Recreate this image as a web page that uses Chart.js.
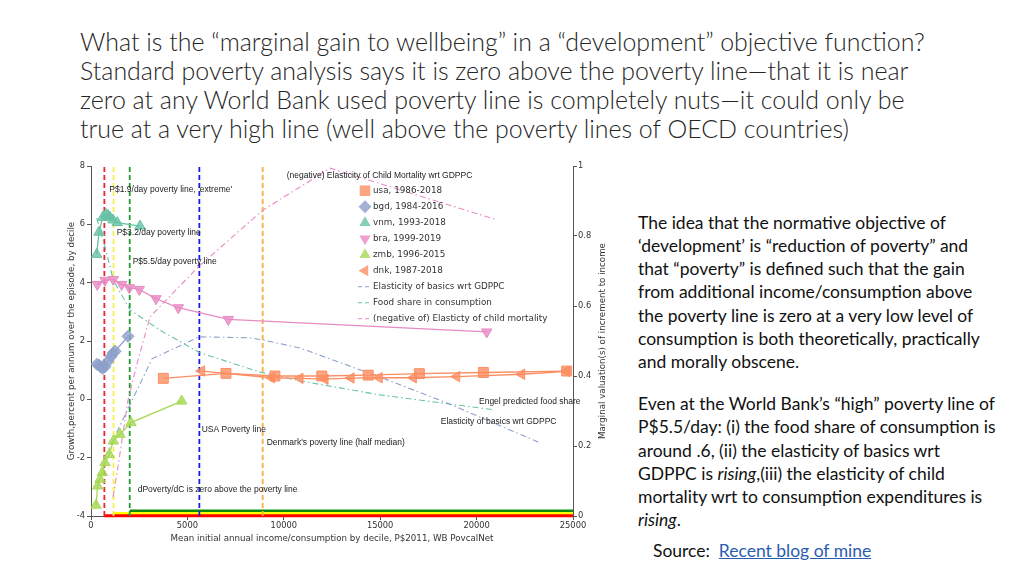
<!DOCTYPE html>
<html>
<head>
<meta charset="utf-8">
<script src="https://cdn.jsdelivr.net/npm/chart.js@4.4.1/dist/chart.umd.min.js"></script>
<style>
  html, body { margin: 0; padding: 0; background: #fff; }
  body { width: 1024px; height: 576px; position: relative; overflow: hidden; font-family: Lato, sans-serif; color: #1a1a1a; }
  .title { position: absolute; left: 80px; top: 27px; font-size: 21px; line-height: 29px; white-space: nowrap; font-weight: 300; color: #262626; }
  .side { position: absolute; left: 638px; font-size: 16px; line-height: 23.3px; white-space: nowrap; color: #111; }
  .src { position: absolute; left: 653px; top: 539px; font-size: 16px; line-height: 23.3px; white-space: nowrap; color: #111; }
  .src a { color: #2a5db0; }
  #chartBox { position: absolute; left: 55px; top: 158px; width: 570px; height: 390px; }
</style>
</head>
<body>

<div class="title" id="title">
  <div id="t1">What is the “marginal gain to wellbeing” in a “development” objective function?</div>
  <div>Standard poverty analysis says it is zero above the poverty line—that it is near</div>
  <div>zero at any World Bank used poverty line is completely nuts—it could only be</div>
  <div>true at a very high line (well above the poverty lines of OECD countries)</div>
</div>

<div class="side" id="p1" style="top:210.5px">
  <div>The idea that the normative objective of</div>
  <div>‘development’ is “reduction of poverty” and</div>
  <div>that “poverty” is defined such that the gain</div>
  <div>from additional income/consumption above</div>
  <div>the poverty line is zero at a very low level of</div>
  <div id="s1">consumption is both theoretically, practically</div>
  <div>and morally obscene.</div>
</div>
<div class="side" id="p2" style="top:392px">
  <div>Even at the World Bank’s “high” poverty line of</div>
  <div>P$5.5/day: (i) the food share of consumption is</div>
  <div>around .6, (ii) the elasticity of basics wrt</div>
  <div>GDPPC is <i>rising</i>,(iii) the elasticity of child</div>
  <div>mortality wrt to consumption expenditures is</div>
  <div><i>rising</i>.</div>
</div>
<div class="src" id="src">Source:&nbsp; <a href="#">Recent blog of mine</a></div>

<div id="chartBox"><canvas id="chart" width="570" height="390"></canvas></div>

<script>
// ── Data ──────────────────────────────────────────────────────────────────
// growth by decile, left axis (percent p.a.) against mean income (P$2011)
const usaX = [3750, 7000, 9540, 11970, 14380, 17030, 20350, 24670];
const usaY = [0.72, 0.89, 0.80, 0.80, 0.83, 0.88, 0.92, 0.97];

const bgdX = [310, 415, 520, 620, 730, 880, 1040, 1140, 1250, 1920];
const bgdY = [1.20, 1.17, 1.10, 1.06, 1.13, 1.30, 1.47, 1.58, 1.65, 2.16];

const vnmX = [296, 415, 607, 778, 880, 986, 1141, 1364, 2541];
const vnmY = [4.97, 5.73, 6.24, 6.34, 6.30, 6.24, 6.15, 6.06, 5.94];

const braX = [327, 726, 1157, 1592, 1987, 2505, 3371, 4528, 7122, 20524];
const braY = [3.94, 4.08, 4.11, 3.94, 3.83, 3.77, 3.45, 3.14, 2.74, 2.31];

const zmbX = [259, 347, 467, 586, 726, 949, 1157, 1504, 2075, 4704];
const zmbY = [-3.63, -2.97, -2.74, -2.51, -2.17, -1.89, -1.43, -1.20, -0.80, -0.06];

const dnkX = [5740, 9370, 10840, 12140, 13490, 14950, 16720, 18970, 22340, 24670];
const dnkY = [0.97, 0.74, 0.72, 0.69, 0.73, 0.74, 0.74, 0.78, 0.86, 0.96];

// marginal valuations, right axis
const basicsX = [726, 3164, 5602, 8247, 8921, 10840, 14990, 18465, 23288];
const basicsY = [0.169, 0.449, 0.512, 0.509, 0.503, 0.480, 0.397, 0.323, 0.209];

const foodX = [296, 726, 1157, 2023, 3579, 5617, 8766, 10840, 12915, 14990, 20954];
const foodY = [0.851, 0.769, 0.674, 0.589, 0.531, 0.467, 0.411, 0.386, 0.366, 0.346, 0.303];

const mortX = [1141, 1349, 1608, 1919, 2438, 3060, 5550, 8921, 12400, 21058];
const mortY = [0.054, 0.123, 0.217, 0.331, 0.446, 0.569, 0.711, 0.874, 0.994, 0.846];

// poverty lines (annual P$): 1.9, 3.2, 5.5 per day, USA, Denmark
const povLineX     = [1.9 * 365, 3.2 * 365, 5.5 * 365, 5620, 8905];
const povLineColor = ['#e8262c', '#f4f04a', '#1e9a2a', '#1c1ce8', '#fbad3c'];
// zero-gain bands along the bottom (first three lines)
const bandY     = [-3.99, -3.91, -3.83];
const bandColor = ['#ff0000', '#ffff00', '#0a8a0a'];

const xTicks = [0, 5000, 10000, 15000, 20000, 25000];

const notes = [
  { text: "P$1.9/day poverty line, 'extreme'", x: 950, y: 7.2 },
  { text: 'P$3.2/day poverty line', x: 1333, y: 5.71 },
  { text: 'P$5.5/day poverty line', x: 2163, y: 4.71 },
  { text: '(negative) Elasticity of Child Mortality wrt GDPPC', x: 10150, y: 7.68 },
  { text: 'Engel predicted food share', x: 20124, y: -0.09 },
  { text: 'Elasticity of basics wrt GDPPC', x: 18140, y: -0.78 },
  { text: 'USA Poverty line', x: 5742, y: -1.05 },
  { text: "Denmark's poverty line (half median)", x: 9113, y: -1.49 },
  { text: 'dPoverty/dC is zero above the poverty line', x: 2422, y: -3.09 },
];

// ── Fit slide text widths ──────────────────────────────────────────────────
function fitWidth(el, target) {
  const w = el.getBoundingClientRect().width;
  const fs = parseFloat(getComputedStyle(el.parentElement).fontSize);
  return fs * target / w;
}
(function fitText() {
  const t1 = document.getElementById('t1');
  t1.style.display = 'inline-block';
  const fsT = fitWidth(t1, 845);
  t1.style.display = '';
  document.getElementById('title').style.fontSize = fsT + 'px';
  const s1 = document.getElementById('s1');
  s1.style.display = 'inline-block';
  const fsS = fitWidth(s1, 342);
  s1.style.display = '';
  ['p1', 'p2', 'src'].forEach(id => document.getElementById(id).style.fontSize = fsS + 'px');
})();

// ── Chart ─────────────────────────────────────────────────────────────────
const pts = (xs, ys) => xs.map((x, i) => ({ x, y: ys[i] }));
const fade = (hex, a) => {
  const n = parseInt(hex.slice(1), 16);
  return `rgba(${n >> 16},${(n >> 8) & 255},${n & 255},${a})`;
};

function markerSet(label, xs, ys, color, style, rotation, radius) {
  return {
    label, data: pts(xs, ys), yAxisID: 'y', order: 0,
    borderColor: color, backgroundColor: fade(color, 0.85), borderWidth: 1.3,
    pointStyle: style, rotation, pointRadius: radius, pointBorderWidth: 1,
    pointBackgroundColor: fade(color, 0.8), pointBorderColor: color,
    legend: true,
  };
}
function curveSet(label, xs, ys, color) {
  return {
    label, data: pts(xs, ys), yAxisID: 'y1', order: 1,
    borderColor: color, borderWidth: 1.1, borderDash: [6, 3, 1.5, 3],
    pointRadius: 0, legend: true, isCurve: true,
  };
}

const datasets = [
  markerSet('usa, 1986-2018', usaX, usaY, '#fc8d62', 'rect', 0, 7),
  markerSet('bgd, 1984-2016', bgdX, bgdY, '#8da0cb', 'rectRot', 0, 6),
  markerSet('vnm, 1993-2018', vnmX, vnmY, '#66c2a5', 'triangle', 0, 6),
  markerSet('bra, 1999-2019', braX, braY, '#e78ac3', 'triangle', 180, 6),
  markerSet('zmb, 1996-2015', zmbX, zmbY, '#a6d854', 'triangle', 0, 6),
  markerSet('dnk, 1987-2018', dnkX, dnkY, '#fc8d62', 'triangle', 270, 6),
  curveSet('Elasticity of basics wrt GDPPC', basicsX, basicsY, '#8da0cb'),
  curveSet('Food share in consumption', foodX, foodY, '#66c2a5'),
  curveSet('(negative of) Elasticty of child mortality', mortX, mortY, '#e78ac3'),
];

povLineX.forEach((px, i) => datasets.push({
  label: 'line' + i, data: [{ x: px, y: -4 }, { x: px, y: 8 }], yAxisID: 'y', order: 2,
  borderColor: povLineColor[i], borderWidth: 1.8, borderDash: [5, 3], pointRadius: 0,
}));
bandY.forEach((by, i) => datasets.push({
  label: 'band' + i, data: [{ x: povLineX[i], y: by }, { x: 25000, y: by }], yAxisID: 'y', order: 3,
  borderColor: bandColor[i], borderWidth: 3, pointRadius: 0, clip: false,
}));

const tickFont = { family: '"DejaVu Sans", Verdana, sans-serif', size: 8.3 };
const axisGrid = { display: true, drawOnChartArea: false, drawTicks: true, tickLength: 4, color: '#555' };

const overlay = {
  id: 'overlay',
  afterDatasetsDraw(chart) {
    const { ctx, chartArea: a, scales: { x, y } } = chart;
    ctx.save();

    // annotations
    ctx.font = '8.5px "Liberation Sans", Arial, sans-serif';
    ctx.fillStyle = '#222';
    ctx.textBaseline = 'middle';
    ctx.textAlign = 'left';
    notes.forEach(n => ctx.fillText(n.text, x.getPixelForValue(n.x), y.getPixelForValue(n.y)));

    // legend
    ctx.font = '8.8px "DejaVu Sans", Verdana, sans-serif';
    const lx = a.left + 274, ly = a.top + 24.7;
    chart.data.datasets.filter(d => d.legend).forEach((d, i) => {
      const cy = ly + i * 16;
      if (d.isCurve) {
        ctx.save();
        ctx.strokeStyle = d.borderColor;
        ctx.lineWidth = 1.1;
        ctx.setLineDash([4, 3]);
        ctx.beginPath();
        ctx.moveTo(lx - 7, cy);
        ctx.lineTo(lx + 4, cy);
        ctx.stroke();
        ctx.restore();
      } else {
        ctx.fillStyle = d.pointBackgroundColor;
        ctx.strokeStyle = d.pointBorderColor;
        ctx.lineWidth = 1;
        Chart.helpers.drawPoint(ctx, { pointStyle: d.pointStyle, rotation: d.rotation, radius: d.pointRadius + 0.5 }, lx, cy);
      }
      ctx.fillStyle = '#333';
      ctx.fillText(d.label, lx + 8, cy + 0.5);
    });

    // axis titles
    ctx.font = '8.7px "DejaVu Sans", Verdana, sans-serif';
    ctx.fillStyle = '#333';
    ctx.textAlign = 'center';
    ctx.fillText('Mean initial annual income/consumption by decile, P$2011, WB PovcalNet', (a.left + a.right) / 2, a.bottom + 23);
    const cy = (a.top + a.bottom) / 2;
    ctx.save();
    ctx.translate(a.left - 19, cy);
    ctx.rotate(-Math.PI / 2);
    ctx.fillText('Growth,percent per annum over the episode, by decile', 0, 0);
    ctx.restore();
    ctx.save();
    ctx.translate(a.right + 30, cy);
    ctx.rotate(-Math.PI / 2);
    ctx.fillText('Marginal valuation(s) of increment to income', 0, 0);
    ctx.restore();

    ctx.restore();
  },
};

new Chart(document.getElementById('chart'), {
  type: 'line',
  data: { datasets },
  options: {
    responsive: false,
    animation: false,
    layout: { padding: { top: 8, left: 0, right: 0, bottom: 0 } },
    plugins: { legend: { display: false }, tooltip: { enabled: false } },
    elements: { line: { tension: 0 } },
    scales: {
      x: {
        type: 'linear', min: 0, max: 25000,
        afterBuildTicks: s => { s.ticks = xTicks.map(v => ({ value: v })); },
        ticks: { font: tickFont, color: '#333', padding: 1, maxRotation: 0, callback: v => String(v) },
        grid: axisGrid, border: { color: '#555' },
        afterFit: s => { s.height = 32; },
      },
      y: {
        position: 'left', min: -4, max: 8,
        ticks: { stepSize: 2, font: tickFont, color: '#333', padding: 2, callback: v => String(v) },
        grid: axisGrid, border: { color: '#555' },
        afterFit: s => { s.width = 36; },
      },
      y1: {
        position: 'right', min: 0, max: 1,
        ticks: { stepSize: 0.2, font: tickFont, color: '#333', padding: 1, callback: v => String(Math.round(v * 10) / 10) },
        grid: axisGrid, border: { color: '#555' },
        afterFit: s => { s.width = 52; },
      },
    },
  },
  plugins: [overlay],
});
</script>
</body>
</html>
